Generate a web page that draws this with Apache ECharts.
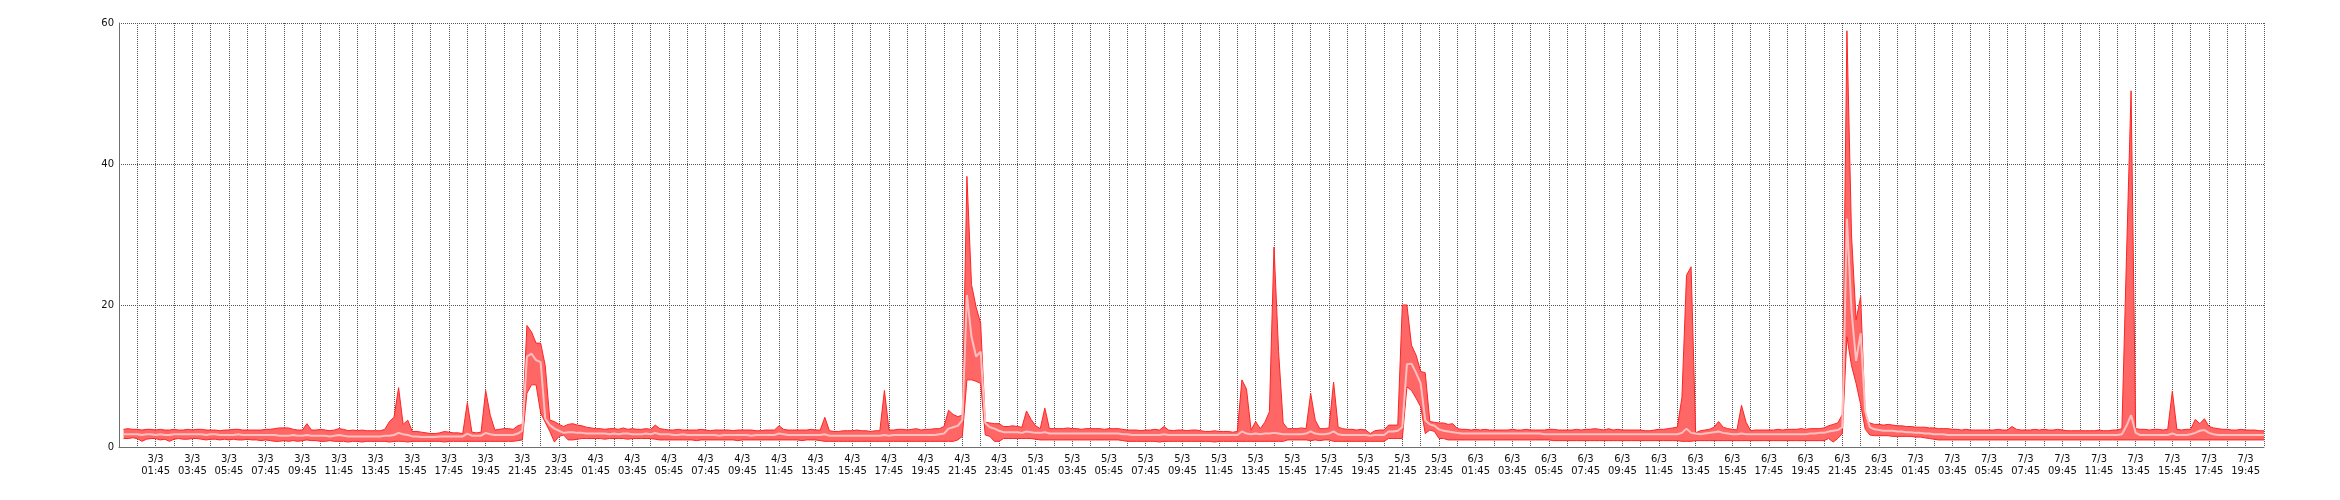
<!DOCTYPE html>
<html>
<head>
<meta charset="utf-8">
<script src="https://cdn.jsdelivr.net/npm/echarts@6/dist/echarts.min.js"></script>
<style>
html,body{margin:0;padding:0;background:#fff;}
#chart{width:2340px;height:500px;}
</style>
</head>
<body>
<div id="chart"></div>
<script>
// Axis runs from 2/3 23:45 to 7/3 20:45 in 15-minute slots; samples start at 3/3 00:00
const SLOTS_PER_HOUR = 4;
const TOTAL_HOURS = 117;
const dayLabels = ['3/3','4/3','5/3','6/3','7/3'];
const timeLabels = ['01:45','03:45','05:45','07:45','09:45','11:45','13:45','15:45','17:45','19:45','21:45','23:45'];

// Upper envelope (max)
const upper = [
2.5,2.6,2.5,2.5, 2.4,2.5,2.5,2.4, 2.5,2.4,2.4,2.5, 2.4,2.4,2.5,2.4, 2.5,2.5,2.4,2.4, 2.4,2.3,2.4,2.4,
2.5,2.5,2.4,2.4, 2.4,2.4,2.4,2.5, 2.5,2.6,2.7,2.7, 2.7,2.5,2.4,2.4, 3.3,2.4,2.4,2.5, 2.4,2.3,2.4,2.6,
2.5,2.3,2.4,2.3, 2.4,2.3,2.3,2.3, 2.3,2.5,3.6,4.2, 8.4,3.2,3.8,2.2, 2.2,2.1,2.0,1.9, 1.9,2.0,2.2,2.1,
2.0,2.0,1.9,6.3, 2.1,2.0,2.1,8.0, 4.5,2.4,2.5,2.6, 2.6,2.5,3.0,3.2, 17.2,16.3,14.7,14.7, 11.5,3.8,3.6,3.2,
2.9,3.2,3.3,3.1, 3.0,2.8,2.7,2.6, 2.6,2.5,2.6,2.6, 2.5,2.7,2.5,2.6, 2.5,2.5,2.6,2.5, 3.1,2.6,2.5,2.4,
2.4,2.5,2.4,2.4, 2.4,2.4,2.5,2.4, 2.3,2.4,2.4,2.4, 2.4,2.3,2.4,2.4, 2.4,2.4,2.3,2.3, 2.4,2.4,2.4,3.0,
2.5,2.4,2.4,2.4, 2.4,2.4,2.5,2.4, 2.4,4.2,2.3,2.2, 2.2,2.3,2.3,2.3, 2.4,2.3,2.3,2.2, 2.3,2.3,8.0,2.4,
2.4,2.5,2.5,2.4, 2.5,2.6,2.4,2.5, 2.5,2.6,2.6,2.9, 5.2,4.6,4.3,4.5, 38.3,23.0,19.8,17.5, 3.5,3.4,3.3,3.3,
2.9,2.9,3.0,2.9, 2.8,5.1,3.9,3.0, 2.6,5.5,2.6,2.6, 2.6,2.6,2.7,2.6, 2.6,2.5,2.6,2.6, 2.6,2.6,2.5,2.6,
2.6,2.6,2.5,2.4, 2.4,2.4,2.3,2.4, 2.4,2.5,2.4,2.9, 2.4,2.3,2.4,2.4, 2.3,2.4,2.4,2.3, 2.2,2.2,2.3,2.2,
2.2,2.2,2.1,2.2, 9.5,8.2,2.4,3.6, 2.6,3.5,5.0,28.3, 13.5,3.4,2.6,2.6, 2.6,2.7,2.6,7.6, 3.8,2.6,2.6,2.7,
9.2,2.8,2.6,2.5, 2.5,2.4,2.5,2.4, 1.9,2.3,2.4,2.4, 3.1,3.1,3.1,20.1, 20.1,14.4,13.0,10.7, 10.5,3.6,3.5,3.4,
3.4,3.2,3.3,2.6, 2.5,2.5,2.4,2.5, 2.4,2.5,2.4,2.4, 2.4,2.4,2.4,2.5, 2.4,2.4,2.5,2.4, 2.4,2.4,2.4,2.5,
2.5,2.4,2.4,2.4, 2.4,2.5,2.4,2.5, 2.5,2.6,2.5,2.4, 2.6,2.4,2.5,2.4, 2.4,2.4,2.4,2.4, 2.3,2.3,2.4,2.5,
2.5,2.6,2.7,2.8, 7.0,24.3,25.5,2.0, 2.3,2.4,2.5,2.8, 3.6,2.8,2.6,2.5, 2.4,5.9,3.5,2.3, 2.4,2.4,2.4,2.4,
2.4,2.5,2.4,2.5, 2.5,2.5,2.6,2.5, 2.6,2.6,2.6,2.7, 3.0,3.2,3.4,4.6, 58.9,30.0,18.0,21.3, 4.0,3.4,3.2,3.2,
3.1,3.2,3.1,3.0, 3.0,2.9,2.9,2.8, 2.8,2.8,2.7,2.7, 2.6,2.6,2.6,2.5, 2.5,2.4,2.5,2.4, 2.4,2.4,2.4,2.4,
2.4,2.5,2.4,2.4, 2.9,2.5,2.4,2.4, 2.4,2.5,2.4,2.5, 2.4,2.4,2.5,2.4, 2.3,2.3,2.3,2.3, 2.3,2.3,2.3,2.4,
2.3,2.3,2.4,2.4, 2.6,27.0,50.4,2.6, 2.5,2.5,2.4,2.5, 2.5,2.4,2.5,7.9, 2.5,2.4,2.5,2.5, 3.9,3.3,4.0,2.9,
2.7,2.6,2.5,2.5, 2.4,2.4,2.5,2.4, 2.4,2.4,2.3,2.3
];

// Middle line (average)
const middle = [
1.8,1.8,1.8,1.8, 1.7,1.8,1.8,1.7, 1.8,1.7,1.7,1.8, 1.8,1.8,1.8,1.8, 1.8,1.8,1.7,1.8, 1.8,1.7,1.7,1.7,
1.7,1.8,1.7,1.7, 1.7,1.7,1.7,1.7, 1.7,1.7,1.6,1.6, 1.6,1.7,1.6,1.6, 1.7,1.6,1.6,1.6, 1.6,1.5,1.6,1.7,
1.6,1.5,1.5,1.5, 1.5,1.5,1.5,1.5, 1.5,1.6,1.6,1.7, 2.0,1.8,1.7,1.5, 1.5,1.4,1.4,1.4, 1.4,1.5,1.5,1.5,
1.5,1.5,1.5,1.9, 1.6,1.6,1.6,2.0, 1.8,1.7,1.7,1.7, 1.7,1.7,1.9,2.3, 12.8,13.2,12.3,12.0, 4.0,3.1,2.6,2.3,
2.0,2.1,2.1,2.0, 2.0,1.9,1.9,1.9, 1.9,1.9,1.8,1.9, 1.8,1.9,1.9,1.8, 1.8,1.8,1.9,1.8, 2.0,1.8,1.8,1.8,
1.7,1.7,1.8,1.7, 1.7,1.7,1.7,1.7, 1.7,1.7,1.6,1.7, 1.7,1.7,1.7,1.7, 1.7,1.6,1.7,1.7, 1.7,1.7,1.7,1.9,
1.8,1.7,1.7,1.7, 1.7,1.7,1.7,1.7, 1.7,1.8,1.6,1.6, 1.6,1.6,1.6,1.6, 1.6,1.6,1.6,1.6, 1.6,1.6,1.7,1.6,
1.7,1.7,1.7,1.7, 1.7,1.7,1.7,1.7, 1.7,1.7,1.8,1.9, 2.6,2.8,3.0,3.8, 21.5,15.6,12.8,13.5, 3.4,2.8,2.6,2.3,
2.1,2.1,2.1,2.1, 2.0,2.2,2.1,2.0, 2.0,2.1,1.9,1.9, 1.9,1.9,1.9,1.9, 1.9,1.9,1.9,1.9, 1.9,1.9,1.9,1.9,
1.9,1.9,1.8,1.8, 1.7,1.7,1.7,1.7, 1.7,1.7,1.7,1.8, 1.7,1.7,1.7,1.7, 1.7,1.7,1.7,1.7, 1.7,1.7,1.7,1.7,
1.7,1.7,1.7,1.7, 2.2,1.9,1.8,1.9, 1.8,1.9,1.9,2.0, 1.9,1.8,1.8,1.8, 1.8,1.8,1.9,2.2, 1.9,1.8,1.8,1.9,
2.2,1.8,1.7,1.7, 1.7,1.7,1.7,1.7, 1.6,1.7,1.7,1.7, 2.2,2.2,2.3,2.8, 11.7,11.8,10.5,9.0, 3.8,3.2,3.0,2.5,
2.3,2.2,2.1,2.0, 1.9,1.9,1.9,1.9, 1.9,1.9,1.9,1.9, 1.9,1.9,1.9,1.9, 1.9,1.9,1.9,1.9, 1.9,1.9,1.8,1.8,
1.8,1.8,1.8,1.8, 1.8,1.8,1.8,1.8, 1.8,1.8,1.8,1.8, 1.8,1.8,1.8,1.8, 1.8,1.8,1.8,1.8, 1.8,1.8,1.8,1.8,
1.8,1.8,1.8,1.8, 2.0,2.6,2.0,1.9, 1.8,1.9,2.0,2.1, 2.2,2.0,1.9,1.8, 1.8,1.9,1.8,1.8, 1.8,1.8,1.8,1.8,
1.8,1.8,1.8,1.8, 1.8,1.8,1.8,1.8, 1.9,1.9,2.0,2.0, 2.2,2.3,2.4,2.8, 32.3,19.3,12.2,16.1, 5.0,2.8,2.5,2.4,
2.3,2.3,2.3,2.2, 2.2,2.1,2.1,2.0, 2.0,1.9,1.9,1.8, 1.8,1.8,1.7,1.7, 1.7,1.7,1.7,1.7, 1.7,1.7,1.7,1.7,
1.7,1.7,1.7,1.7, 1.7,1.7,1.7,1.7, 1.7,1.7,1.7,1.7, 1.7,1.7,1.7,1.7, 1.7,1.7,1.7,1.7, 1.7,1.7,1.7,1.7,
1.7,1.7,1.7,1.7, 1.8,3.0,4.5,2.0, 1.7,1.7,1.7,1.7, 1.7,1.7,1.7,1.9, 1.7,1.7,1.7,1.8, 2.0,2.3,2.4,2.0,
1.8,1.7,1.7,1.7, 1.7,1.7,1.7,1.7, 1.7,1.7,1.7,1.7
];

// Lower envelope (min)
const lower = [
1.2,1.2,1.3,1.2, 0.8,1.1,1.2,1.2, 1.0,1.1,0.8,1.1, 1.2,1.1,1.1,1.2, 1.2,1.1,1.0,1.1, 1.1,1.0,1.1,1.0,
1.1,1.0,1.0,1.1, 1.0,1.0,0.9,1.0, 0.9,0.8,0.8,0.9, 0.8,0.9,0.8,0.9, 1.0,0.9,0.9,0.8, 0.8,0.9,0.8,0.8,
0.8,0.7,0.8,0.8, 0.7,0.8,0.8,0.8, 0.8,0.8,0.7,0.8, 0.8,0.8,0.7,0.8, 0.8,0.8,0.8,0.8, 0.8,0.8,0.7,0.8,
0.8,0.8,0.8,0.8, 0.8,0.8,0.8,0.8, 0.8,0.8,0.8,0.8, 0.8,0.8,0.9,1.0, 7.6,8.8,8.8,4.8, 3.5,2.2,0.7,1.5,
1.7,1.0,1.0,1.1, 1.2,1.2,1.2,1.2, 1.2,1.1,1.2,1.2, 1.2,1.2,1.1,1.2, 1.2,1.2,1.2,1.2, 1.1,1.0,1.0,1.0,
1.0,1.0,1.0,1.0, 1.0,0.9,1.0,1.0, 1.0,1.0,1.0,1.0, 1.0,1.0,0.9,1.0, 1.0,1.0,1.0,1.0, 1.0,1.0,1.0,1.0,
1.0,1.0,1.0,1.0, 0.9,1.0,1.0,1.0, 0.9,0.8,0.8,0.8, 0.8,0.8,0.8,0.8, 0.8,0.8,0.8,0.8, 0.8,0.8,0.8,0.8,
0.8,0.8,0.8,0.8, 0.8,0.8,0.8,0.8, 0.8,0.8,0.8,0.8, 0.8,0.8,1.0,1.5, 9.5,9.5,9.3,9.0, 1.7,1.5,0.8,0.8,
1.2,1.2,1.2,1.2, 1.2,1.2,1.2,1.1, 1.0,1.0,1.0,1.0, 1.0,1.0,1.0,1.0, 1.0,1.0,1.0,1.0, 1.0,1.0,1.0,1.0,
1.0,1.0,0.9,0.8, 0.8,0.8,0.8,0.8, 0.8,0.8,0.7,0.8, 0.8,0.8,0.8,0.8, 0.8,0.8,0.8,0.8, 0.8,0.8,0.7,0.8,
0.8,0.8,0.8,0.8, 0.8,0.8,0.8,0.8, 0.8,0.8,0.8,0.8, 0.8,0.8,1.0,1.0, 1.0,1.0,1.0,0.9, 1.0,0.9,1.0,1.0,
0.8,0.8,0.8,0.8, 0.8,0.8,0.8,0.8, 0.8,0.8,0.8,0.8, 1.2,1.2,1.2,1.2, 8.5,8.0,6.9,5.7, 1.9,2.4,2.2,1.2,
1.2,1.0,1.0,1.0, 1.0,1.0,1.0,1.0, 1.0,1.0,1.0,1.0, 1.0,1.0,1.0,1.0, 1.0,1.0,1.0,1.0, 1.0,1.0,1.0,1.0,
0.9,0.9,0.9,0.9, 0.9,0.9,0.9,0.9, 0.9,0.9,0.9,0.9, 0.9,0.9,0.9,0.9, 0.9,0.9,0.9,0.9, 0.9,0.9,0.9,0.9,
0.9,0.9,0.9,0.9, 0.8,0.8,0.8,0.9, 0.9,0.9,0.9,0.9, 0.9,0.9,0.9,0.9, 0.9,0.9,0.9,0.9, 0.9,0.9,0.9,0.9,
0.9,0.9,0.9,0.9, 0.9,0.9,0.9,0.9, 0.9,0.9,0.9,0.9, 1.2,0.7,1.2,1.9, 15.6,11.5,9.0,6.0, 2.5,1.7,1.6,1.6,
1.6,1.6,1.5,1.5, 1.5,1.5,1.5,1.4, 1.4,1.3,1.2,1.1, 1.0,1.0,1.0,1.0, 1.0,1.0,1.0,1.0, 1.0,1.0,1.0,1.0,
1.0,1.0,1.0,1.0, 1.0,1.0,1.0,1.0, 1.0,1.0,1.0,1.0, 1.0,1.0,1.0,1.0, 1.0,1.0,1.0,1.0, 1.0,1.0,1.0,1.0,
1.0,1.0,1.0,1.0, 1.0,1.0,1.0,1.0, 1.0,1.0,1.0,1.0, 1.0,1.0,1.0,1.0, 1.0,1.0,1.0,1.0, 1.0,1.0,1.0,1.0,
1.0,1.0,1.0,1.0, 1.0,1.0,1.0,1.0, 1.0,1.0,1.0,1.0
];

// y-axis ticks
const yMin = 0, yMax = 60, yStep = 20;

// Category slots: slot 0 = 2/3 23:45 (axis start, no sample), slot k = +15 min each
const slotCount = TOTAL_HOURS * SLOTS_PER_HOUR + 1;
const categories = Array.from({length: slotCount}, (_, i) => String(i));

// x tick labels every 2 hours (slot multiples of 8), built from the label arrays
const tickLabelMap = {};
(function(){
  let slot = 8;
  for (let d = 0; d < dayLabels.length; d++) {
    for (let t = 0; t < timeLabels.length; t++) {
      if (slot >= slotCount - 1) break;
      tickLabelMap[slot] = dayLabels[d] + '\n' + timeLabels[t];
      slot += 8;
    }
  }
})();

const lowerData = [null].concat(lower);
const bandData = [null].concat(upper.map((v, i) => Math.round((v - lower[i]) * 100) / 100));
const midData = [null].concat(middle);

const chart = echarts.init(document.getElementById('chart'), null, {renderer: 'canvas'});
const font = 'DejaVu Sans';
const hourTick = (idx) => idx % SLOTS_PER_HOUR === 0;
chart.setOption({
  animation: false,
  backgroundColor: '#ffffff',
  grid: {left: 119, right: 76, top: 23, bottom: 53, containLabel: false},
  xAxis: {
    type: 'category', data: categories, boundaryGap: false,
    axisLine: {show: true, onZero: false, lineStyle: {color: '#6e6e6e', width: 1}},
    axisTick: {show: false, interval: hourTick},
    splitLine: {show: true, interval: hourTick, lineStyle: {color: '#555555', width: 1, type: 'dotted'}},
    axisLabel: {
      show: true, margin: 6, fontFamily: font, fontSize: 10, color: '#111', lineHeight: 12,
      interval: (idx) => tickLabelMap[idx] !== undefined,
      formatter: (val, idx) => tickLabelMap[idx] || ''
    }
  },
  yAxis: {
    type: 'value', min: yMin, max: yMax, interval: yStep,
    axisLine: {show: true, lineStyle: {color: '#6e6e6e', width: 1}},
    axisTick: {show: false},
    splitLine: {show: true, lineStyle: {color: '#555555', width: 1, type: 'dotted'}},
    axisLabel: {margin: 5, fontFamily: font, fontSize: 10, color: '#111'}
  },
  series: [
    {
      name: 'min', type: 'line', stack: 'band', data: lowerData,
      symbol: 'none', smooth: false, z: 3,
      lineStyle: {color: '#ff2424', width: 1}
    },
    {
      name: 'range', type: 'line', stack: 'band', data: bandData,
      symbol: 'none', smooth: false, z: 3,
      lineStyle: {color: '#ff2424', width: 1},
      areaStyle: {color: '#ff6666', opacity: 1}
    },
    {
      name: 'avg', type: 'line', data: midData,
      symbol: 'none', smooth: false, z: 4,
      lineStyle: {color: '#ffc0c0', width: 2}
    }
  ]
});
</script>
</body>
</html>
